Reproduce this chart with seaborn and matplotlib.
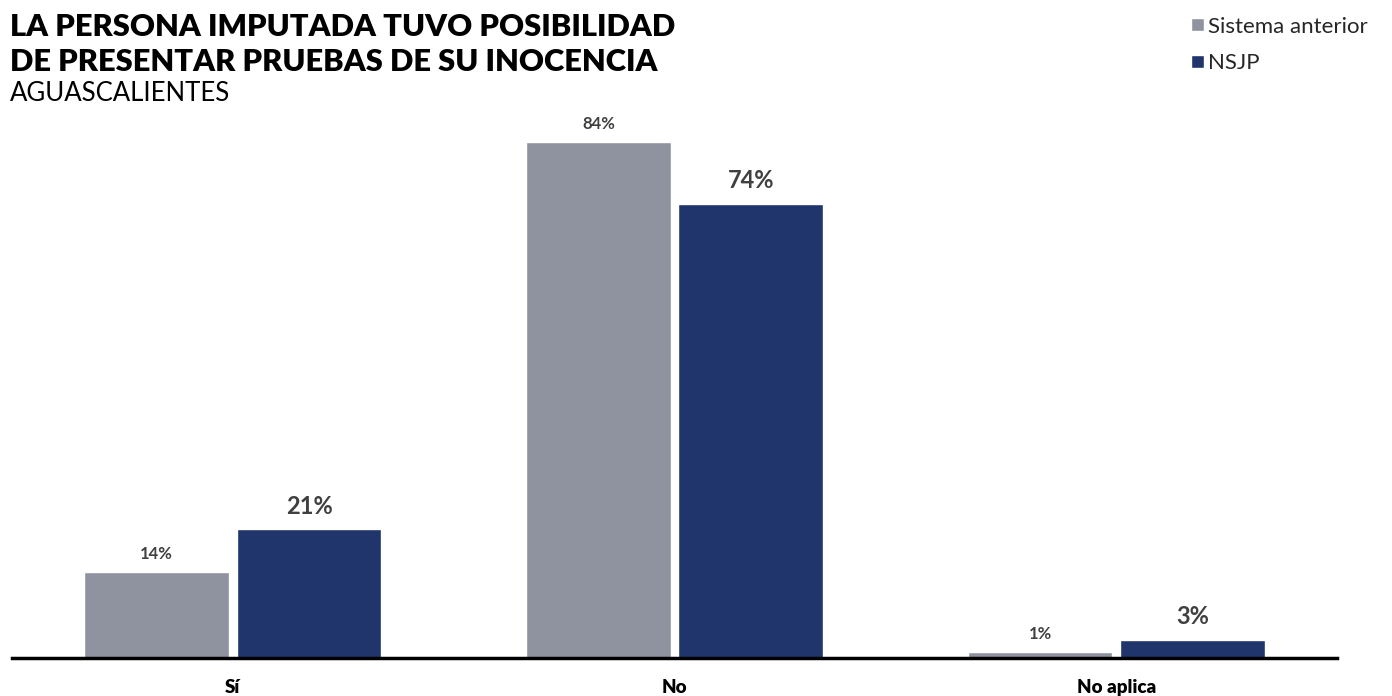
import pandas as pd
import matplotlib.pyplot as plt
from matplotlib.patches import Patch
import seaborn as sns

# Data
categories = ["Sí", "No", "No aplica"]
series_names = ["Sistema anterior", "NSJP"]
anterior = [14, 84, 1]
nsjp = [21, 74, 3]

GRAY = "#8F939F"
NAVY = "#20356B"
TEXT = "#404040"

sns.set_theme(style="white")
plt.rcParams["font.family"] = ["Lato", "DejaVu Sans"]

df = pd.DataFrame({
    "categoria": categories * 2,
    "serie": [series_names[0]] * 3 + [series_names[1]] * 3,
    "valor": anterior + nsjp,
})

fig = plt.figure(figsize=(13.92, 6.96), dpi=100)
ax = fig.add_axes([0.0086, 0.0546, 0.952, 0.787])

sns.barplot(data=df, x="categoria", y="valor", hue="serie", order=categories,
            hue_order=series_names, palette=[GRAY, NAVY], width=0.69, gap=0.05,
            saturation=1, legend=False, ax=ax)

ax.set_xlim(-0.5, 2.5)
ax.set_ylim(0, 89.2)
ax.set_yticks([])
ax.set_xlabel("")
ax.set_ylabel("")
for side in ["top", "right", "left"]:
    ax.spines[side].set_visible(False)
ax.spines["bottom"].set_color("black")
ax.spines["bottom"].set_linewidth(2.5)
ax.tick_params(axis="x", length=0, pad=15)
for lbl in ax.get_xticklabels():
    lbl.set_fontsize(13.5)
    lbl.set_fontweight("heavy")
    lbl.set_color("black")

# value labels: smaller for the old system, larger for NSJP
ax.bar_label(ax.containers[0], fmt="%d%%", padding=7, fontsize=12,
             fontweight="bold", color=TEXT)
ax.bar_label(ax.containers[1], fmt="%d%%", padding=8, fontsize=17,
             fontweight="bold", color=TEXT)

fig.text(0.007, 0.982, "LA PERSONA IMPUTADA TUVO POSIBILIDAD\nDE PRESENTAR PRUEBAS DE SU INOCENCIA",
         fontsize=22.2, fontweight="heavy", color="black", va="top", linespacing=1.32)
fig.text(0.007, 0.847, "AGUASCALIENTES", fontsize=18.5, color="black", va="bottom")

handles = [Patch(facecolor=GRAY, label=series_names[0]),
           Patch(facecolor=NAVY, label=series_names[1])]
fig.legend(handles=handles, loc="upper right", bbox_to_anchor=(0.997, 1.005),
           frameon=False, fontsize=16, handlelength=0.55, handleheight=0.55,
           handletextpad=0.2, labelspacing=0.75)

plt.savefig("out.png", dpi=100)
